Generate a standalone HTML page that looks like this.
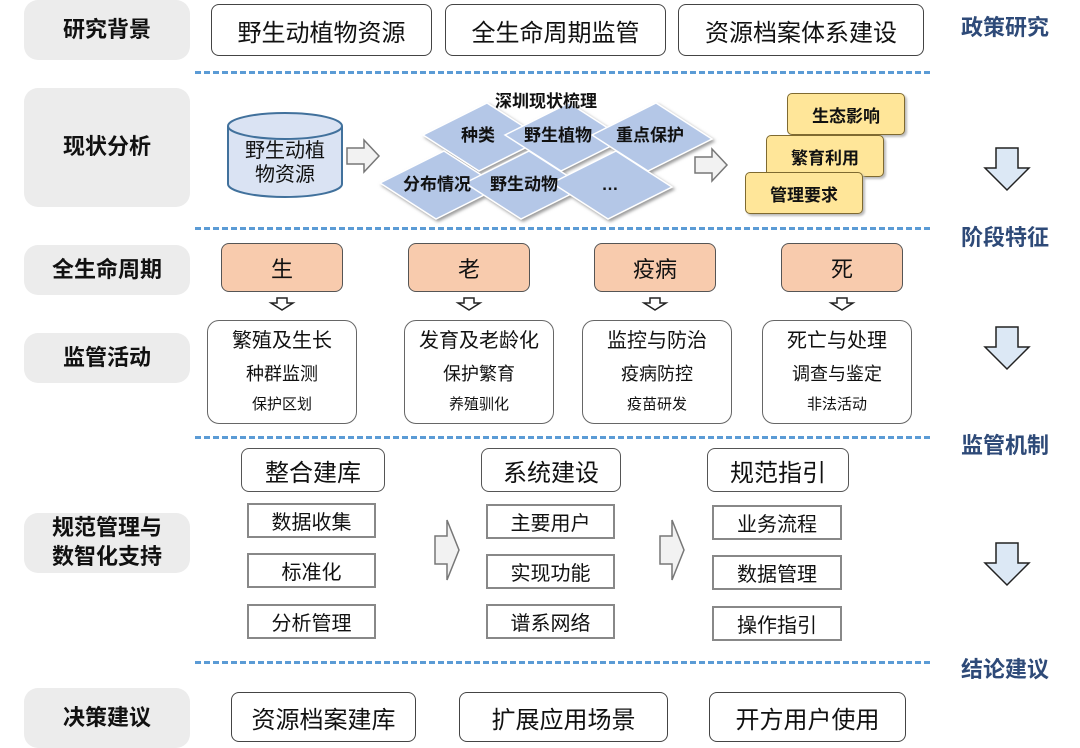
<!DOCTYPE html>
<html><head><meta charset="utf-8"><style>
body{margin:0;width:1080px;height:748px;background:#fff;position:relative;overflow:hidden;font-family:"Liberation Sans","Noto Sans CJK SC",sans-serif;color:#111}
.a{position:absolute;box-sizing:border-box;display:flex;align-items:center;justify-content:center;text-align:center}
.lab{background:#ececec;border-radius:14px;font-weight:bold;font-size:22px;left:24px;width:166px;line-height:1.3}
.rb{border:1.5px solid #444;border-radius:8px;background:#fff;font-size:24px}
.rt{color:#2e4a78;font-weight:bold;font-size:22px;left:950px;width:110px}
.dash{position:absolute;left:195px;width:735px;border-top:3px dashed #5b9bd5;height:0}
.or{background:#f8cbad;border:1.5px solid #555;border-radius:8px;font-size:22px;top:243px;height:49px;width:122px}
.act{border:1.2px solid #666;border-radius:12px;top:320px;height:104px;width:150px;flex-direction:column;background:#fff}
.act div{line-height:1}
.sq{border:2px solid #888;font-size:20px;background:#fff;height:35px;width:129px}
.hd{border:1.5px solid #555;border-radius:8px;font-size:24px;top:448px;height:44px}
.yl{background:#ffe699;border:1.2px solid #7f6a30;border-radius:5px;font-weight:bold;font-size:17px;width:118px;height:42px;box-shadow:2px 2px 2px #bbb}
</style></head><body>
<div class="a lab" style="top:0;height:60px">研究背景</div>
<div class="a lab" style="top:88px;height:119px">现状分析</div>
<div class="a lab" style="top:245px;height:50px">全生命周期</div>
<div class="a lab" style="top:333px;height:50px">监管活动</div>
<div class="a lab" style="top:513px;height:60px">规范管理与<br>数智化支持</div>
<div class="a lab" style="top:688px;height:60px">决策建议</div>

<div class="dash" style="top:71px"></div>
<div class="dash" style="top:227px"></div>
<div class="dash" style="top:436px"></div>
<div class="dash" style="top:661px"></div>

<div class="a rt" style="top:10px;height:32px">政策研究</div>
<div class="a rt" style="top:220px;height:32px">阶段特征</div>
<div class="a rt" style="top:428px;height:32px">监管机制</div>
<div class="a rt" style="top:652px;height:32px">结论建议</div>

<svg style="position:absolute;left:0;top:0" width="1080" height="748">
<defs><g id="da"><polygon points="-11,0 11,0 11,20 22,20 0,42 -22,20 -11,20" fill="#dce8f5" stroke="#222" stroke-width="1.5"/></g>
<g id="ra"><polygon points="0,-8 17,-8 17,-16 32,0 17,16 17,8 0,8" fill="#f2f2f2" stroke="#777" stroke-width="1.5"/></g>
<g id="sa"><polygon points="-5,0 5,0 5,5 11,5 0,12 -11,5 -5,5" fill="#fff" stroke="#222" stroke-width="1.5"/></g>
<g id="ba"><polygon points="0,-14 12,-14 12,-30 24,0 12,30 12,14 0,14" fill="#f2f2f2" stroke="#777" stroke-width="1.5"/></g>
<g id="dm"><polygon points="-60,-2 4,-34 60,2 -4,34" fill="#b4c7e7" stroke="#fff" stroke-width="1.5"/></g>
<filter id="sh"><feDropShadow dx="2" dy="2" stdDeviation="1.5" flood-color="#999"/></filter></defs>
<use href="#da" x="1007" y="148"/><use href="#da" x="1007" y="327"/><use href="#da" x="1007" y="543"/>
<path d="M228,126 L228,184 A57,13 0 0 0 342,184 L342,126" fill="#dae3f3" stroke="#41719c" stroke-width="2"/>
<ellipse cx="285" cy="126" rx="57" ry="13" fill="#dae3f3" stroke="#41719c" stroke-width="2"/>
<use href="#ra" x="347" y="156"/><use href="#ra" x="695" y="165"/>
<g filter="url(#sh)">
<use href="#dm" x="483" y="137"/><use href="#dm" x="565" y="137"/><use href="#dm" x="652" y="137"/>
<use href="#dm" x="440" y="185"/><use href="#dm" x="525" y="185"/><use href="#dm" x="612" y="185"/>
</g>
<g font-weight="bold" font-size="17" text-anchor="middle" fill="#111" font-family="Liberation Sans,Noto Sans CJK SC,sans-serif">
<text x="546" y="107">深圳现状梳理</text>
<text x="478" y="141">种类</text><text x="558" y="141">野生植物</text><text x="650" y="141">重点保护</text>
<text x="437" y="190">分布情况</text><text x="524" y="190">野生动物</text><text x="610" y="190">…</text>
</g>
<use href="#sa" x="282" y="298"/><use href="#sa" x="469" y="298"/><use href="#sa" x="655" y="298"/><use href="#sa" x="842" y="298"/>
<use href="#ba" x="435" y="550"/><use href="#ba" x="660" y="550"/>
</svg>
<div class="a" style="left:228px;top:138px;width:114px;height:50px;font-size:20px;line-height:1.2">野生动植<br>物资源</div>

<div class="a rb" style="left:211px;top:4px;width:221px;height:52px">野生动植物资源</div>
<div class="a rb" style="left:445px;top:4px;width:221px;height:52px">全生命周期监管</div>
<div class="a rb" style="left:678px;top:4px;width:246px;height:52px">资源档案体系建设</div>

<div class="a yl" style="left:787px;top:93px">生态影响</div>
<div class="a yl" style="left:766px;top:135px">繁育利用</div>
<div class="a yl" style="left:745px;top:172px">管理要求</div>

<div class="a or" style="left:221px">生</div>
<div class="a or" style="left:408px">老</div>
<div class="a or" style="left:594px">疫病</div>
<div class="a or" style="left:781px">死</div>

<div class="a act" style="left:207px"><div style="font-size:20px;margin-top:-2px">繁殖及生长</div><div style="font-size:18px;margin-top:14px">种群监测</div><div style="font-size:15px;margin-top:14px">保护区划</div></div>
<div class="a act" style="left:404px"><div style="font-size:20px;margin-top:-2px">发育及老龄化</div><div style="font-size:18px;margin-top:14px">保护繁育</div><div style="font-size:15px;margin-top:14px">养殖驯化</div></div>
<div class="a act" style="left:582px"><div style="font-size:20px;margin-top:-2px">监控与防治</div><div style="font-size:18px;margin-top:14px">疫病防控</div><div style="font-size:15px;margin-top:14px">疫苗研发</div></div>
<div class="a act" style="left:762px"><div style="font-size:20px;margin-top:-2px">死亡与处理</div><div style="font-size:18px;margin-top:14px">调查与鉴定</div><div style="font-size:15px;margin-top:14px">非法活动</div></div>

<div class="a hd" style="left:241px;width:144px">整合建库</div>
<div class="a hd" style="left:481px;width:140px">系统建设</div>
<div class="a hd" style="left:707px;width:142px">规范指引</div>
<div class="a sq" style="left:247px;top:503px">数据收集</div>
<div class="a sq" style="left:247px;top:553px">标准化</div>
<div class="a sq" style="left:247px;top:604px">分析管理</div>
<div class="a sq" style="left:486px;top:504px">主要用户</div>
<div class="a sq" style="left:486px;top:554px">实现功能</div>
<div class="a sq" style="left:486px;top:604px">谱系网络</div>
<div class="a sq" style="left:712px;top:505px;width:130px">业务流程</div>
<div class="a sq" style="left:712px;top:555px;width:130px">数据管理</div>
<div class="a sq" style="left:712px;top:606px;width:130px">操作指引</div>

<div class="a rb" style="left:231px;top:692px;width:185px;height:50px">资源档案建库</div>
<div class="a rb" style="left:459px;top:692px;width:209px;height:50px">扩展应用场景</div>
<div class="a rb" style="left:709px;top:692px;width:197px;height:50px">开方用户使用</div>
</body></html>
